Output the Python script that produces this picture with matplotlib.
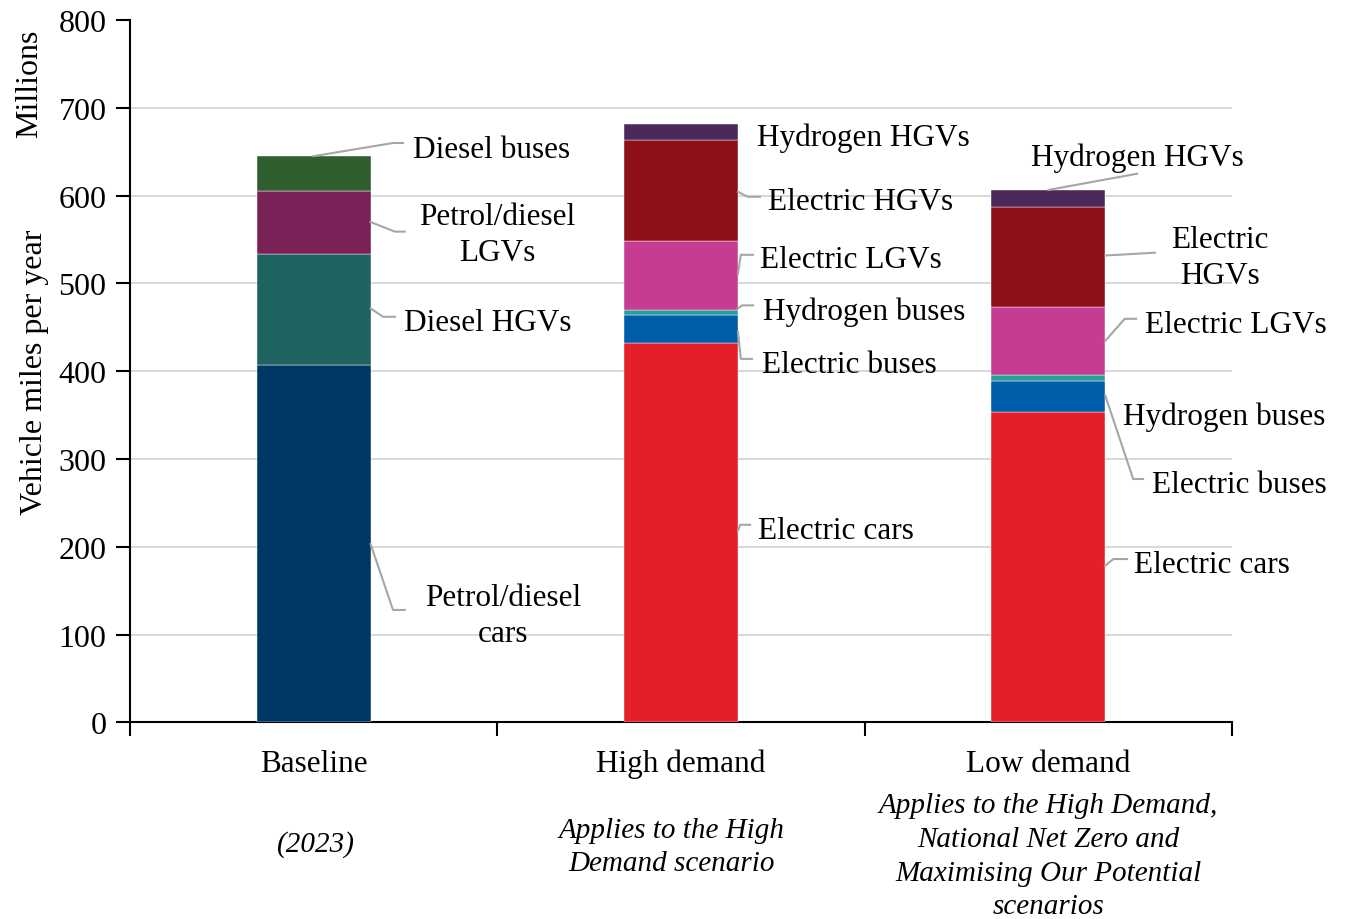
import numpy as np
import matplotlib
matplotlib.use("Agg")
import matplotlib.pyplot as plt

plt.rcParams['font.family'] = ['Liberation Serif', 'DejaVu Serif']

categories = ['Baseline', 'High demand', 'Low demand']
subtitles = ['(2023)',
             'Applies to the High\nDemand scenario',
             'Applies to the High Demand,\nNational Net Zero and\nMaximising Our Potential\nscenarios']

baseline_names = ['Petrol/diesel cars', 'Diesel HGVs', 'Petrol/diesel LGVs', 'Diesel buses']
baseline_values = [407, 126, 72, 40]
baseline_colors = ['#003764', '#1E635F', '#7A2257', '#2F5F2E']

future_names = ['Electric cars', 'Electric buses', 'Hydrogen buses',
                'Electric LGVs', 'Electric HGVs', 'Hydrogen HGVs']
high_values = [432, 32, 6, 78, 115, 19]
low_values = [354, 35, 6.5, 78, 114, 19]
future_colors = ['#E41F2A', '#005DAA', '#2AA198', '#C73C93', '#8C1016', '#4B2A5B']

fig = plt.figure(figsize=(13.48, 9.2), dpi=100)
ax = fig.add_axes([130 / 1348, 1 - 723.3 / 920, 1102 / 1348, 702.2 / 920])

width = 0.31
stacks = [(0, baseline_values, baseline_colors),
          (1, high_values, future_colors),
          (2, low_values, future_colors)]
for xpos, vals, cols in stacks:
    bottom = 0
    for v, c in zip(vals, cols):
        ax.bar(xpos, v, width, bottom=bottom, color=c, edgecolor='white',
               linewidth=0.3, zorder=3)
        bottom += v

ax.set_xlim(-0.5, 2.5)
ax.set_ylim(0, 800)
ax.set_yticks(np.arange(0, 801, 100))
ax.set_xticks([-0.5, 0.5, 1.5, 2.5])
ax.set_xticklabels([])
ax.tick_params(axis='y', labelsize=23, length=10, width=1.5, direction='out', pad=7)
ax.tick_params(axis='x', length=10, width=1.5, direction='out')
for s in ['top', 'right']:
    ax.spines[s].set_visible(False)
for s in ['left', 'bottom']:
    ax.spines[s].set_linewidth(1.5)

for yv in range(100, 800, 100):
    ax.axhline(yv, color='#D9D9D9', lw=1.5, zorder=1)

xt = ax.get_xaxis_transform()
for i, name in enumerate(categories):
    ax.text(i, -0.058, name, transform=xt, ha='center', va='center', fontsize=22.5)
sub_pos = [(0.006, -0.172), (0.975, -0.177), (2.0, -0.190)]
for (sx, sy), txt in zip(sub_pos, subtitles):
    ax.text(sx, sy, txt, transform=xt, ha='center', va='center', fontsize=21,
            style='italic', linespacing=1.38)

fig.text(35 / 1348, 1 - 372 / 920, 'Vehicle miles per year', rotation=90,
         ha='center', va='center', fontsize=23)
fig.text(30 / 1348, 1 - 84 / 920, 'Millions', rotation=90,
         ha='center', va='center', fontsize=23)

# labels: text, text position, alignment, leader polyline (data coords)
lead = '#A6A6A6'
labels = [
    ('Diesel buses', (0.270, 653), 'left', [(0.0, 645), (0.216, 660), (0.243, 660)]),
    ('Petrol/diesel\nLGVs', (0.499, 555.5), 'center', [(0.155, 570), (0.221, 559), (0.248, 559)]),
    ('Diesel HGVs', (0.246, 456), 'left', [(0.155, 471.5), (0.189, 462), (0.221, 462)]),
    ('Petrol/diesel\ncars', (0.515, 121.7), 'center', [(0.155, 203), (0.216, 128), (0.248, 128)]),
    ('Hydrogen HGVs', (1.207, 667), 'left', None),
    ('Electric HGVs', (1.237, 593.6), 'left', [(1.155, 604.4), (1.182, 598.7), (1.215, 598.7)]),
    ('Electric LGVs', (1.215, 527.5), 'left', [(1.155, 511), (1.163, 532.6), (1.196, 532.6)]),
    ('Hydrogen buses', (1.223, 467.8), 'left', [(1.155, 471.5), (1.166, 475), (1.196, 475)]),
    ('Electric buses', (1.220, 407.2), 'left', [(1.155, 444.8), (1.163, 414), (1.193, 414)]),
    ('Electric cars', (1.210, 218), 'left', [(1.155, 218.4), (1.161, 225), (1.188, 225)]),
    ('Hydrogen HGVs', (2.242, 643.3), 'center', [(2.0, 606.5), (2.242, 625)]),
    ('Electric\nHGVs', (2.467, 529.2), 'center', [(2.155, 531.8), (2.290, 535)]),
    ('Electric LGVs', (2.263, 452.8), 'left', [(2.155, 434.6), (2.208, 459.7), (2.239, 459.7)]),
    ('Hydrogen buses', (2.203, 349.1), 'left', None),
    ('Electric buses', (2.282, 270.4), 'left', [(2.155, 372.2), (2.231, 277.2), (2.258, 277.2)]),
    ('Electric cars', (2.233, 179.3), 'left', [(2.155, 178.5), (2.177, 186), (2.214, 186)]),
]
for txt, (tx, ty), ha, pts in labels:
    ax.text(tx, ty, txt, ha=ha, va='center', fontsize=22.5, linespacing=1.3,
            zorder=5, clip_on=False)
    if pts:
        px, py = zip(*pts)
        ax.plot(px, py, color=lead, lw=1.5, zorder=4, clip_on=False)

fig.savefig('out.png', dpi=100)
